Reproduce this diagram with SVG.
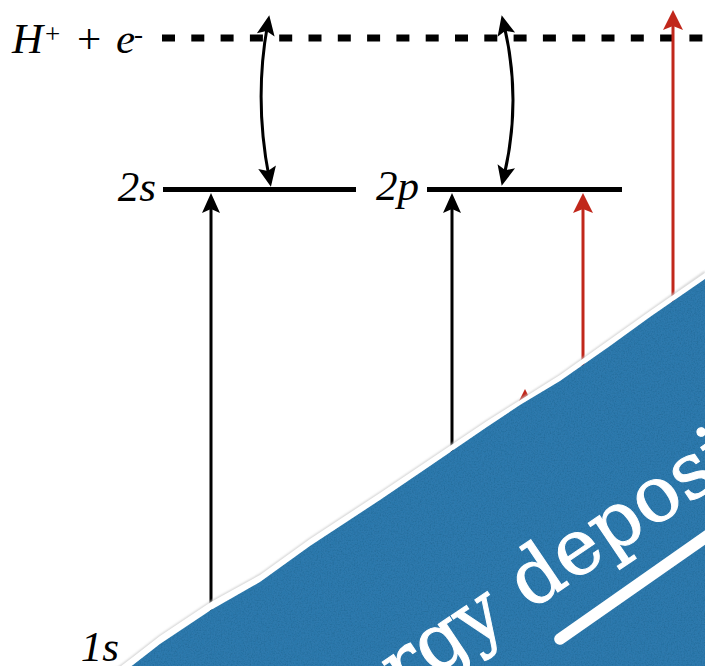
<svg xmlns="http://www.w3.org/2000/svg" width="705" height="666" viewBox="0 0 705 666">
  <style>
    .lbl { font-family: "Liberation Serif", "Times New Roman", serif; font-style: italic; font-size: 43px; fill: #000; }
    .up { font-style: normal; }
    .level { stroke: #000; stroke-width: 5; fill: none; }
    .shaft { stroke-width: 3; fill: none; }
    .blk { stroke: #000; }
    .red { stroke: #c1271b; }
    .band-text { font-family: "DejaVu Serif", "Liberation Serif", serif; font-size: 77px; fill: #fff; stroke: #fff; stroke-width: 1; }
  </style>
  <defs>
    <marker id="ahBlack" markerUnits="userSpaceOnUse" markerWidth="30" markerHeight="30" viewBox="-15 -15 30 30" refX="0" refY="0" orient="auto-start-reverse">
      <path d="M10,0 L-10,-9 L-6,0 L-10,9 Z" fill="#000"/>
    </marker>
    <marker id="ahRed" markerUnits="userSpaceOnUse" markerWidth="30" markerHeight="30" viewBox="-15 -15 30 30" refX="0" refY="0" orient="auto-start-reverse">
      <path d="M10,0 L-10,-10 L-6,0 L-10,10 Z" fill="#c1271b"/>
    </marker>
    <filter id="paper" x="0" y="0" width="100%" height="100%">
      <feTurbulence type="fractalNoise" baseFrequency="0.7" numOctaves="3" seed="4" result="n"/>
      <feColorMatrix in="n" type="matrix" values="0 0 0 0 0  0 0 0 0 0.05  0 0 0 0 0.1  0 0 0 -0.6 0.35" result="dark"/>
      <feComposite in="dark" in2="SourceGraphic" operator="in" result="tex"/>
      <feMerge><feMergeNode in="SourceGraphic"/><feMergeNode in="tex"/></feMerge>
    </filter>
    <filter id="soft" x="-5%" y="-5%" width="110%" height="110%">
      <feGaussianBlur stdDeviation="1"/>
    </filter>
  </defs>

  <rect x="0" y="0" width="705" height="666" fill="#fff"/>

  <g id="level-ion">
    <line x1="162" y1="38" x2="705" y2="38" stroke="#000" stroke-width="7" stroke-dasharray="13 16.3"/>
    <text class="lbl" x="12" y="53">H<tspan class="up" x="45" y="43" font-size="27">+</tspan><tspan class="up" x="77" y="53">+</tspan><tspan x="116" y="53">e</tspan><tspan class="up" x="134" y="43" font-size="27">-</tspan></text>
  </g>

  <g id="level-2s">
    <line class="level" x1="163" y1="189.5" x2="356" y2="189.5"/>
    <text class="lbl" x="156" y="201" text-anchor="end">2s</text>
  </g>

  <g id="level-2p">
    <line class="level" x1="427" y1="189.5" x2="622" y2="189.5"/>
    <text class="lbl" x="419" y="200" text-anchor="end">2p</text>
  </g>

  <g id="level-1s">
    <text class="lbl" x="119" y="661" text-anchor="end">1s</text>
  </g>

  <g id="connectors">
    <path class="shaft blk" d="M211,640 L211,203" marker-end="url(#ahBlack)"/>
    <path class="shaft blk" d="M452,470 L452,203" marker-end="url(#ahBlack)"/>
    <path class="shaft red" d="M583,380 L583,203" marker-end="url(#ahRed)"/>
    <path class="shaft red" d="M525,480 L525,399" marker-end="url(#ahRed)"/>
    <path class="shaft red" d="M673,320 L673,20" marker-end="url(#ahRed)"/>
    <path class="shaft blk" d="M267.5,25 Q254,100 269,177" marker-start="url(#ahBlack)" marker-end="url(#ahBlack)"/>
    <path class="shaft blk" d="M504,25 Q522,100 504,176" marker-start="url(#ahBlack)" marker-end="url(#ahBlack)"/>
  </g>

  <g id="banner">
    <path d="M705,272 L650,311 L560,375 L487,421 L380,493 L310,539 L260,575 L211,602 L160,636 L133,657 L108,676" fill="none" stroke="#c8c8c8" stroke-width="2" filter="url(#soft)"/>
    <path d="M705,273 L650,311 L560,375 L487,421 L380,493 L310,539 L260,575 L211,602 L160,636 L133,657 L108,676 L115,678 L133,665 L160,644 L211,610 L260,582 L310,546 L380,500 L487,427 L560,381 L650,317 L705,279 Z" fill="#fff"/>
    <path d="M705,279 L650,317 L610,346 L560,381 L520,405 L487,427 L430,466 L380,500 L310,546 L260,582 L211,610 L160,644 L133,665 L115,678 L705,678 Z" fill="#2e79ad" filter="url(#paper)"/>
    <text class="band-text" transform="translate(531,610) rotate(-34)" x="-296" y="0">energy deposition</text>
    <path d="M556.4,634.4 L716.6,522.1 L723.4,531.9 L563.6,643.6 A5.8,5.8 0 0 1 556.4,634.4 Z" fill="#fff"/>
  </g>
</svg>
